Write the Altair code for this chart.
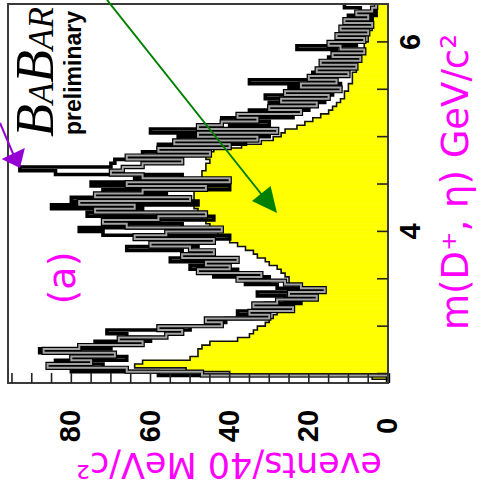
import altair as alt
import pandas as pd

# Mass axis: 100 bins of 40 MeV from 2.40 to 6.40 GeV
MASS_MIN, MASS_MAX = 2.40, 6.40
BIN = 0.04
EVT_MAX = 96

# Filled (yellow) histogram, events per bin, ascending mass
yellow_counts = [
    0, 4, 40, 51, 64, 62, 50, 48, 48, 47,
    45, 38, 35, 34, 33, 31, 30, 29, 28, 27,
    26, 25, 25, 24, 24, 24, 25, 25, 26, 27,
    28, 30, 31, 33, 34, 36, 38, 40, 41, 43,
    44, 45, 46, 47, 48, 48, 49, 49, 49, 49,
    49, 48, 48, 48, 47, 47, 46, 46, 45, 46,
    47, 44, 37, 32, 29, 27, 26, 23, 21, 19,
    17, 15, 14, 13, 12, 11, 11, 10, 10, 9,
    9, 9, 8, 8, 8, 7, 7, 6, 6, 6,
    5, 5, 5, 4, 4, 4, 4, 3, 3, 3,
]

# Black histogram, events per bin, ascending mass
black_counts = [
    0, 0, 58, 80, 72, 84, 66, 77, 88, 70,
    74, 60, 66, 71, 50, 46, 41, 34, 38, 27,
    31, 22, 26, 33, 19, 28, 36, 30, 44, 38,
    50, 42, 55, 47, 52, 66, 48, 54, 40, 72,
    78, 52, 70, 44, 76, 62, 85, 48, 80, 56,
    72, 40, 75, 64, 52, 84, 93, 70, 69, 56,
    62, 48, 58, 36, 53, 30, 60, 40, 30, 42,
    24, 35, 20, 30, 16, 31, 14, 25, 12, 35,
    14, 19, 10, 16, 9, 15, 7, 13, 23, 8,
    12, 6, 11, 5, 9, 4, 10, 3, 7, 11,
]

# Grey histogram, events per bin, ascending mass
gray_counts = [
    0, 0, 47, 66, 86, 75, 80, 69, 87, 78,
    62, 68, 56, 52, 58, 42, 46, 30, 35, 24,
    34, 28, 18, 25, 16, 22, 26, 38, 32, 48,
    40, 46, 38, 52, 44, 50, 60, 44, 64, 56,
    42, 66, 72, 58, 46, 74, 64, 78, 50, 74,
    62, 46, 66, 40, 62, 70, 67, 62, 52, 66,
    45, 58, 40, 54, 33, 48, 28, 48, 42, 33,
    38, 22, 30, 18, 27, 15, 26, 12, 22, 13,
    20, 10, 18, 8, 17, 7, 14, 6, 12, 15,
    6, 13, 5, 12, 4, 11, 5, 8, 4, 3,
]

ev_tick_values = list(range(5, 96, 5))
ev_label_values = [0, 20, 40, 60, 80]
mass_tick_values = [2.5, 3.0, 3.5, 4.0, 4.5, 5.0, 5.5, 6.0]
mass_label_values = [4, 6]

W, H = 380, 379

n_bins = len(yellow_counts)
edges = [round(MASS_MIN + BIN * i, 2) for i in range(n_bins + 1)]


def step_table(counts):
    # one point per bin lower edge, plus the closing upper edge
    return pd.DataFrame({"edge": edges, "n": list(counts) + [counts[-1]]})


bins = pd.DataFrame({"lo": edges[:-1], "hi": edges[1:], "n": yellow_counts, "zero": 0})

xs = alt.Scale(domain=[0, EVT_MAX], reverse=True, nice=False, zero=False)
ys = alt.Scale(domain=[MASS_MIN, MASS_MAX], nice=False, zero=False)

X = alt.X("n:Q", scale=xs, axis=None)
Y = alt.Y("edge:Q", scale=ys, axis=None)
ORDER = alt.Order("edge:Q")


def step_line(counts, color, width):
    return alt.Chart(step_table(counts)).mark_line(
        interpolate="step-before", color=color, strokeWidth=width,
        strokeCap="butt", strokeJoin="miter"
    ).encode(x=X, y=Y, order=ORDER)


yellow_fill = alt.Chart(bins).mark_rect(
    color="#ffff00", stroke="#ffff00", strokeWidth=0.6
).encode(
    x=X, x2="zero:Q",
    y=alt.Y("lo:Q", scale=ys, axis=None), y2="hi:Q",
)

yellow_edge = step_line(yellow_counts, "#111111", 1.6)
black_hist = step_line(black_counts, "#000000", 3.6)
gray_border = step_line(gray_counts, "#000000", 4.4)
gray_hist = step_line(gray_counts, "#a2a2a2", 2.0)


def one(**fields):
    return alt.Chart(pd.DataFrame({k: [v] for k, v in fields.items()}))


frame = one(t="frame").mark_rect(fill=None, stroke="#3a3a3a", strokeWidth=2).encode(
    x=alt.value(0), x2=alt.value(W), y=alt.value(0), y2=alt.value(H)
)

ev_ticks = alt.Chart(pd.DataFrame({"v": ev_tick_values})).mark_rule(
    color="#222222", strokeWidth=1.6
).encode(x=alt.X("v:Q", scale=xs, axis=None), y=alt.value(H - 10), y2=alt.value(H))

mass_ticks = alt.Chart(pd.DataFrame({"m": mass_tick_values})).mark_rule(
    color="#222222", strokeWidth=1.6
).encode(y=alt.Y("m:Q", scale=ys, axis=None), x=alt.value(W - 11), x2=alt.value(W))

ev_labels = alt.Chart(
    pd.DataFrame({"v": ev_label_values, "lab": [str(v) for v in ev_label_values]})
).mark_text(
    angle=270, font="Liberation Sans", fontWeight="bold", fontSize=29,
    align="center", baseline="middle", color="#000000"
).encode(x=alt.X("v:Q", scale=xs, axis=None), y=alt.value(422), text="lab:N")

mass_labels = alt.Chart(
    pd.DataFrame({"m": mass_label_values, "lab": [str(v) for v in mass_label_values]})
).mark_text(
    angle=270, font="Liberation Sans", fontWeight="bold", fontSize=29,
    align="center", baseline="middle", color="#000000"
).encode(y=alt.Y("m:Q", scale=ys, axis=None), x=alt.value(403), text="lab:N")


def note(txt, x, y, **kw):
    return one(t=txt).mark_text(**kw).encode(x=alt.value(x), y=alt.value(y), text="t:N")


MAGENTA = "#ff00ff"
ev_title = note("events/40 MeV/c²", 221, 449, angle=180, font="DejaVu Sans",
                fontSize=35, color=MAGENTA, align="center", baseline="alphabetic")
mass_title = note("m(D⁺, η) GeV/c²", 460, 178, angle=270, font="DejaVu Sans",
                  fontSize=37, color=MAGENTA, align="center", baseline="alphabetic")
panel_tag = note("(a)", 67, 274, angle=270, font="DejaVu Sans", fontSize=38,
                 color=MAGENTA, align="center", baseline="alphabetic")

logo_style = dict(angle=270, font="Liberation Serif", fontStyle="italic",
                  align="left", baseline="alphabetic", color="#000000")
logo = [
    note("B", 45, 133, fontSize=54, **logo_style),
    note("A", 45, 100, fontSize=35, **logo_style),
    note("B", 45, 79, fontSize=54, **logo_style),
    note("AR", 45, 46, fontSize=35, **logo_style),
]
prelim = note("preliminary", 73, 131, angle=270, font="Liberation Sans",
              fontWeight="bold", fontSize=23, align="left", baseline="alphabetic")

# Arrows: shaft plus a filled triangular head with its tip at the point
purple = "#9400d3"
green = "#008000"
purple_shaft = one(t="p").mark_rule(color=purple, strokeWidth=2).encode(
    x=alt.value(-8), y=alt.value(119), x2=alt.value(6), y2=alt.value(152))
purple_head = one(t="p").mark_point(
    shape="M0,0L0.8,1L-0.8,1Z", filled=True, color=purple, opacity=1,
    size=1024, angle=155
).encode(x=alt.value(12), y=alt.value(164))
green_shaft = one(t="g").mark_rule(color=green, strokeWidth=2).encode(
    x=alt.value(99), y=alt.value(-4), x2=alt.value(254), y2=alt.value(191))
green_head = one(t="g").mark_point(
    shape="M0,0L0.48,1L-0.48,1Z", filled=True, color=green, opacity=1,
    size=2500, angle=141
).encode(x=alt.value(269), y=alt.value(209))

chart = alt.layer(
    yellow_fill, yellow_edge, black_hist, gray_border, gray_hist,
    frame, ev_ticks, mass_ticks, ev_labels, mass_labels,
    ev_title, mass_title, panel_tag, *logo, prelim,
    purple_shaft, purple_head, green_shaft, green_head,
).properties(
    width=W, height=H,
    autosize=alt.AutoSizeParams(type="none"),
    padding={"left": 8, "top": 4, "right": 98, "bottom": 115},
    background="white",
).configure_view(stroke=None)

chart.save("out.html", embed_options={"renderer": "svg", "actions": False})
